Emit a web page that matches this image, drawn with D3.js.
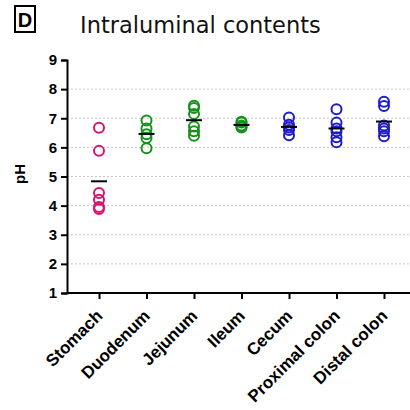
<!DOCTYPE html>
<html>
<head>
<meta charset="utf-8">
<script src="https://cdn.jsdelivr.net/npm/d3@7"></script>
<style>
  html, body { margin: 0; padding: 0; background: #fff; }
  svg { display: block; }
</style>
</head>
<body>
<svg id="chart" width="410" height="410"></svg>
<script>
// Gut segments along the x axis
const segments = ["Stomach", "Duodenum", "Jejunum", "Ileum", "Cecum", "Proximal colon", "Distal colon"];

// pH readings per segment (one circle each)
const stomach = [6.67, 5.88, 4.43, 4.2, 3.95, 3.88];
const duodenum = [6.92, 6.65, 6.45, 6.32, 5.97];
const jejunum = [7.43, 7.35, 7.15, 6.72, 6.55, 6.4];
const ileum = [6.88, 6.85, 6.75, 6.7, 6.68];
const cecum = [7.03, 6.78, 6.68, 6.6, 6.42];
const proximalColon = [7.31, 6.85, 6.65, 6.55, 6.35, 6.18];
const distalColon = [7.57, 7.42, 6.75, 6.65, 6.55, 6.38];

const segmentColors = ["#d4156f", "#16911a", "#16911a", "#16911a", "#1c1cc8", "#1c1cc8", "#1c1cc8"];

const yTicks = [1, 2, 3, 4, 5, 6, 7, 8, 9];

const groups = [stomach, duodenum, jejunum, ileum, cecum, proximalColon, distalColon];

const svg = d3.select("#chart");

const x = d3.scalePoint().domain(segments).range([99, 384]);
const y = d3.scaleLinear().domain([1, 9]).range([293, 60]);
const axisLeft = 67;

// Panel letter and title
svg.append("rect")
  .attr("x", 15).attr("y", 6).attr("width", 20).attr("height", 26)
  .attr("fill", "none").attr("stroke", "#000").attr("stroke-width", 2);
svg.append("text")
  .attr("x", 25).attr("y", 27)
  .attr("text-anchor", "middle")
  .attr("font-family", "Liberation Sans, Arial, sans-serif")
  .attr("font-weight", "bold").attr("font-size", 20)
  .text("D");
svg.append("text")
  .attr("x", 80).attr("y", 33)
  .attr("font-family", "DejaVu Sans, Verdana, sans-serif")
  .attr("font-size", 22.5)
  .attr("fill", "#111")
  .text("Intraluminal contents");

// Dotted horizontal gridlines
svg.append("g")
  .selectAll("line")
  .data(yTicks.filter(t => t > 1 && t < 9))
  .join("line")
  .attr("x1", axisLeft).attr("x2", 410)
  .attr("y1", d => y(d)).attr("y2", d => y(d))
  .attr("stroke", "#c8c8c8").attr("stroke-width", 1)
  .attr("stroke-dasharray", "2,2");

// Y axis
const gy = svg.append("g")
  .attr("transform", `translate(${axisLeft},0)`)
  .call(d3.axisLeft(y).tickValues(yTicks).tickFormat(d3.format("d")).tickSize(6).tickPadding(4));
gy.select(".domain").attr("stroke", "#000").attr("stroke-width", 2);
gy.selectAll(".tick line").attr("stroke", "#000").attr("stroke-width", 2);
gy.selectAll(".tick text")
  .attr("font-family", "Liberation Sans, Arial, sans-serif")
  .attr("font-weight", "bold").attr("font-size", 15).attr("fill", "#000");

// X axis
const gx = svg.append("g")
  .attr("transform", `translate(0,${y(1)})`)
  .call(d3.axisBottom(x).tickSize(6).tickSizeOuter(0));
gx.select(".domain").attr("d", `M${axisLeft},0H410`).attr("stroke", "#000").attr("stroke-width", 2);
gx.selectAll(".tick line").attr("stroke", "#000").attr("stroke-width", 2);
gx.selectAll(".tick text")
  .attr("font-family", "Liberation Sans, Arial, sans-serif")
  .attr("font-weight", "bold").attr("font-size", 17).attr("fill", "#000")
  .attr("text-anchor", "end")
  .attr("y", 0).attr("dy", 0)
  .attr("transform", "translate(4,24) rotate(-45)");

// Y axis title
svg.append("text")
  .attr("transform", `translate(25,174) rotate(-90)`)
  .attr("text-anchor", "middle")
  .attr("font-family", "Liberation Sans, Arial, sans-serif")
  .attr("font-weight", "bold").attr("font-size", 15)
  .text("pH");

// Individual readings as open circles
const points = groups.flatMap((vals, i) => vals.map(v => ({ seg: segments[i], v, c: segmentColors[i] })));
svg.append("g")
  .selectAll("circle")
  .data(points)
  .join("circle")
  .attr("cx", d => x(d.seg))
  .attr("cy", d => y(d.v))
  .attr("r", 5)
  .attr("fill", "none")
  .attr("stroke", d => d.c)
  .attr("stroke-width", 2);

// Mean bars
svg.append("g")
  .selectAll("line")
  .data(groups.map((vals, i) => ({ seg: segments[i], m: d3.mean(vals) })))
  .join("line")
  .attr("x1", d => x(d.seg) - 8).attr("x2", d => x(d.seg) + 8)
  .attr("y1", d => y(d.m)).attr("y2", d => y(d.m))
  .attr("stroke", "#000").attr("stroke-width", 2);
</script>
</body>
</html>
